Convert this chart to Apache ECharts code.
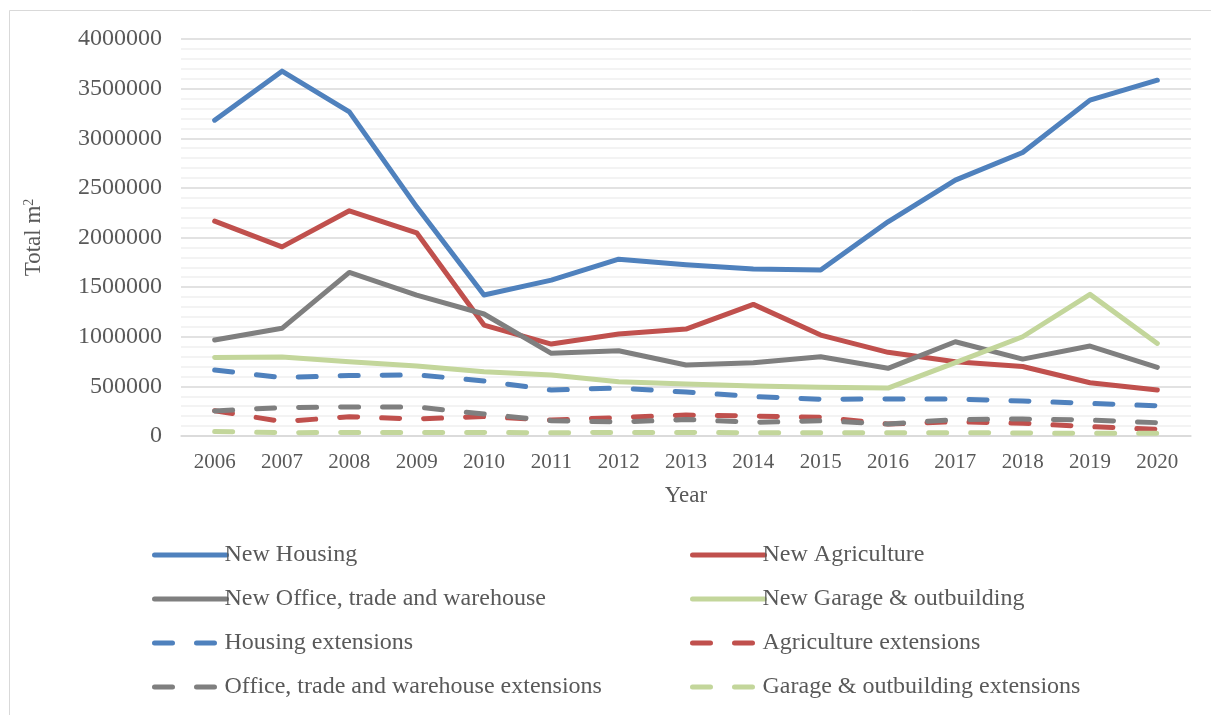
<!DOCTYPE html>
<html><head><meta charset="utf-8">
<script src="https://cdn.jsdelivr.net/npm/echarts@6/dist/echarts.min.js"></script>
<style>html,body{margin:0;padding:0;background:#fff}#c{width:1211px;height:715px}</style>
</head><body><div id="c"></div>
<script>
const years = ['2006','2007','2008','2009','2010','2011','2012','2013','2014','2015','2016','2017','2018','2019','2020'];
const newHousing = [3182000,3676000,3266000,2309000,1420000,1571000,1782000,1725000,1682000,1672000,2158000,2578000,2857000,3384000,3585000];
const newAgriculture = [2165000,1906000,2269000,2047000,1118000,926000,1027000,1077000,1326000,1017000,843000,748000,700000,537000,463000];
const newOffice = [967000,1085000,1648000,1420000,1229000,833000,859000,715000,738000,799000,682000,950000,775000,906000,692000];
const newGarage = [790000,795000,748000,705000,647000,614000,547000,524000,503000,490000,483000,740000,1000000,1427000,933000];
const housingExt = [665000,589000,609000,617000,554000,463000,483000,443000,398000,370000,373000,373000,352000,329000,305000];
const agricultureExt = [255000,146000,194000,171000,196000,161000,186000,211000,201000,188000,121000,144000,128000,94000,67000];
const officeExt = [252000,287000,292000,292000,222000,154000,141000,166000,138000,154000,121000,166000,171000,161000,134000];
const garageExt = [45000,33000,35000,35000,35000,33000,35000,35000,33000,33000,33000,33000,30000,27000,27000];
const yTicks = [0,500000,1000000,1500000,2000000,2500000,3000000,3500000,4000000];

const FONT = '"Liberation Serif","Times New Roman",serif';
const TXT = '#595959';
const C = {blue:'#4F81BD', red:'#C0504D', gray:'#7F7F7F', green:'#C3D69B'};

function mk(name, data, color, dashed){
  return {
    name, type:'line', data, symbol:'none', smooth:false,
    lineStyle:{color, width:5, cap:'round', join:'round', type: dashed ? [18,24] : 'solid'},
    itemStyle:{color},
    emphasis:{disabled:true}
  };
}

const series = [
  mk('New Housing', newHousing, C.blue, false),
  mk('New Agriculture', newAgriculture, C.red, false),
  mk('New Office, trade and warehouse', newOffice, C.gray, false),
  mk('New Garage & outbuilding', newGarage, C.green, false),
  mk('Housing extensions', housingExt, C.blue, true),
  mk('Agriculture extensions', agricultureExt, C.red, true),
  mk('Office, trade and warehouse extensions', officeExt, C.gray, true),
  mk('Garage & outbuilding extensions', garageExt, C.green, true)
];

const legendCommon = {
  orient:'vertical', itemWidth:72, itemHeight:14, itemGap:20,
  textStyle:{fontFamily:FONT, fontSize:24, color:TXT, lineHeight:24, padding:[0,0,0,-7]},
  lineStyle:{width:5, cap:'round'},
  itemStyle:{opacity:0, color:'transparent', borderWidth:0},
  selectedMode:false
};

const chart = echarts.init(document.getElementById('c'), null, {renderer:'canvas'});
chart.setOption({
  animation:false,
  backgroundColor:'#fff',
  textStyle:{fontFamily:FONT},
  graphic:[{type:'rect', shape:{x:9.5,y:10.5,width:1300,height:800}, style:{fill:'none', stroke:'#d9d9d9', lineWidth:1}, silent:true, z:-10}],
  grid:{left:181, right:20, top:39, bottom:279, containLabel:false},
  legend:[
    Object.assign({left:147, top:538, data:['New Housing','New Office, trade and warehouse','Housing extensions','Office, trade and warehouse extensions']}, legendCommon),
    Object.assign({left:685, top:538, data:['New Agriculture','New Garage & outbuilding','Agriculture extensions','Garage & outbuilding extensions']}, legendCommon)
  ],
  xAxis:{
    type:'category', data:years, boundaryGap:true,
    axisLine:{lineStyle:{color:'#d9d9d9', width:1.5}},
    axisTick:{show:false},
    axisLabel:{fontFamily:FONT, fontSize:21, color:TXT, margin:16},
    name:'Year', nameLocation:'middle', nameGap:48,
    nameTextStyle:{fontFamily:FONT, fontSize:23, color:TXT}
  },
  yAxis:{
    type:'value', min:0, max:4000000, interval:500000,
    axisLine:{show:false}, axisTick:{show:false},
    axisLabel:{fontFamily:FONT, fontSize:24, color:TXT, margin:19, formatter:(v)=>String(v)},
    splitLine:{lineStyle:{color:'#d9d9d9', width:1.5}},
    minorTick:{show:false, splitNumber:5},
    minorSplitLine:{show:true, lineStyle:{color:'#efefef', width:1.5}},
    name:'Total m{sup|2}', nameLocation:'middle', nameRotate:90, nameGap:135,
    nameTextStyle:{fontFamily:FONT, fontSize:23, color:TXT,
      rich:{sup:{fontFamily:FONT, fontSize:14, color:TXT, verticalAlign:'top', padding:[0,0,10,0]}}}
  },
  series
});
</script></body></html>
